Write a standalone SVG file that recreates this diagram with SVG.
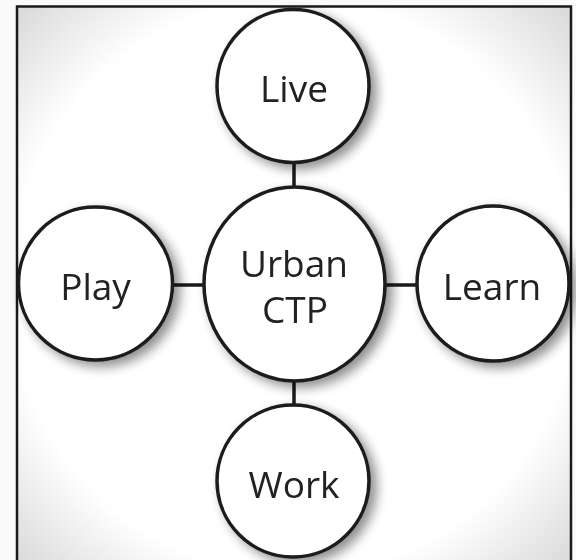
<svg xmlns="http://www.w3.org/2000/svg" width="576" height="560" viewBox="0 0 576 560">
<defs>
<radialGradient id="bg" cx="50%" cy="50%" r="71%">
<stop offset="0.72" stop-color="#ffffff"/>
<stop offset="1" stop-color="#d8d8d8"/>
</radialGradient>
<filter id="sh" x="-30%" y="-30%" width="160%" height="160%">
<feGaussianBlur in="SourceAlpha" stdDeviation="6"/>
<feOffset dx="6" dy="5" result="b"/>
<feComponentTransfer><feFuncA type="linear" slope="0.45"/></feComponentTransfer>
<feMerge><feMergeNode/><feMergeNode in="SourceGraphic"/></feMerge>
</filter>
</defs>
<style>
.n{fill:#ffffff;stroke:#1a1a1a;stroke-width:3.5}
.t{font-family:"Open Sans","Noto Sans",sans-serif;font-size:37px;fill:#222222;text-anchor:middle}
.c{stroke:#1a1a1a;stroke-width:3.5;fill:none}
</style>
<rect x="0" y="0" width="576" height="560" fill="#fafafa"/>
<rect x="17" y="6.5" width="554" height="560" fill="url(#bg)" stroke="#1a1a1a" stroke-width="2.5"/>
<g id="connectors">
<line class="c" x1="294" y1="162" x2="294" y2="187"/>
<line class="c" x1="294" y1="381" x2="294" y2="406"/>
<line class="c" x1="172" y1="285" x2="205" y2="285"/>
<line class="c" x1="384" y1="285" x2="418" y2="285"/>
</g>
<g id="live" filter="url(#sh)">
<ellipse class="n" cx="293" cy="86" rx="76" ry="76.5"/>
<text class="t" x="294" y="101.5">Live</text>
</g>
<g id="center" filter="url(#sh)">
<ellipse class="n" cx="294.5" cy="284" rx="90.5" ry="97"/>
<text class="t" x="294" y="277">Urban</text>
<text class="t" x="295" y="323">CTP</text>
</g>
<g id="play" filter="url(#sh)">
<ellipse class="n" cx="95.5" cy="283.5" rx="77" ry="76.5"/>
<text class="t" x="95.5" y="300">Play</text>
</g>
<g id="learn" filter="url(#sh)">
<ellipse class="n" cx="493" cy="283.5" rx="76" ry="77.5"/>
<text class="t" x="492" y="300">Learn</text>
</g>
<g id="work" filter="url(#sh)">
<ellipse class="n" cx="293" cy="481" rx="76" ry="76"/>
<text class="t" x="294" y="498">Work</text>
</g>
</svg>
